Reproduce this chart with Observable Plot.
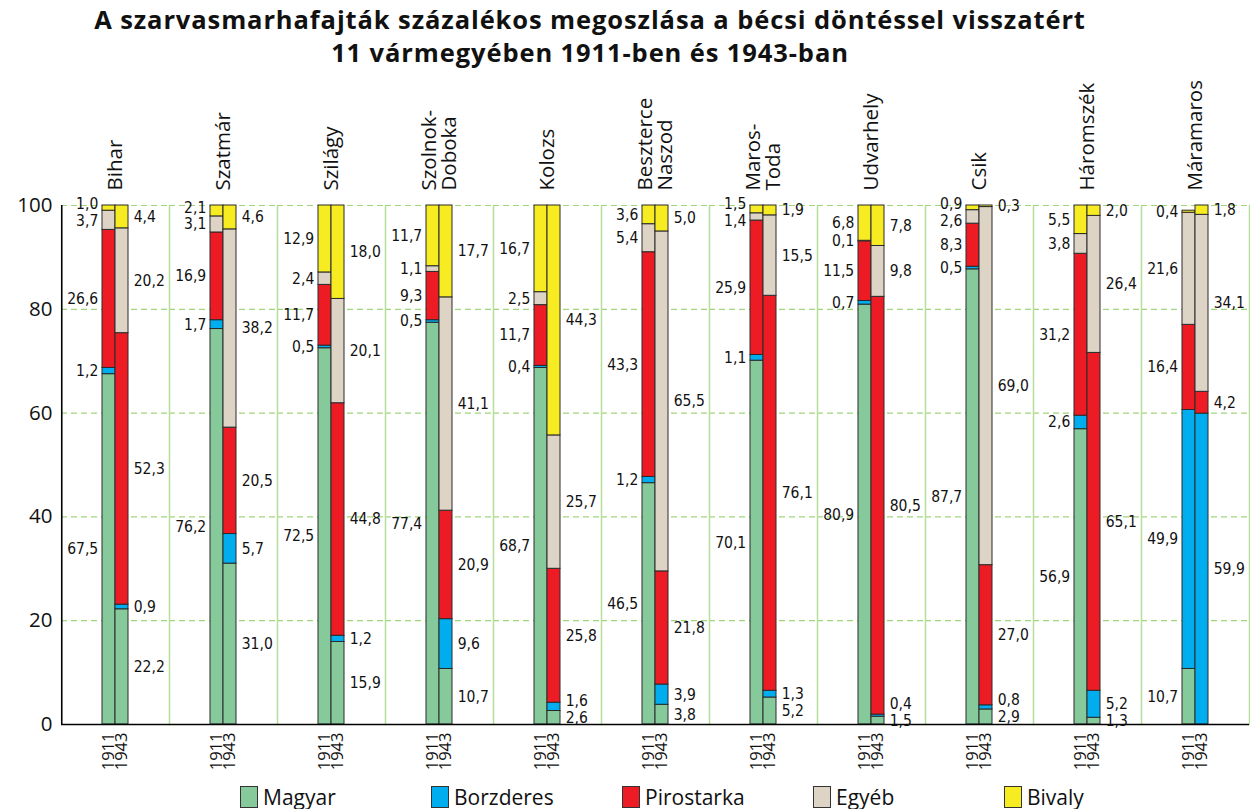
<!DOCTYPE html>
<html>
<head>
<meta charset="utf-8">
<script src="https://cdn.jsdelivr.net/npm/d3@7"></script>
<script src="https://cdn.jsdelivr.net/npm/@observablehq/plot@0.6"></script>
<style>
  html, body { margin: 0; padding: 0; background: #fff; }
  body { width: 1250px; height: 809px; position: relative; overflow: hidden; font-family: "Open Sans", "Noto Sans", sans-serif; }
  .title { position: absolute; left: 0; width: 1180px; text-align: center; font-weight: 700; font-size: 25.5px; line-height: 33px; letter-spacing: 0.9px; color: #111; white-space: nowrap; }
  #t1 { top: 3px; }
  #t2 { top: 36px; }
  #chart { position: absolute; left: 0; top: 75px; }
  #legend { position: absolute; left: 240px; top: 783px; display: flex; }
  .item { width: 191px; display: flex; align-items: center; font-size: 21px; color: #111; }
  .sw { width: 18px; height: 22px; border: 1px solid #333; margin-right: 5px; box-sizing: border-box; }
</style>
</head>
<body>
<div class="title" id="t1">A szarvasmarhafajták százalékos megoszlása a bécsi döntéssel visszatért</div>
<div class="title" id="t2">11 vármegyében 1911-ben és 1943-ban</div>
<div id="chart"></div>
<div id="legend"></div>
<script>
const counties = ["Bihar", "Szatmár", "Szilágy", "Szolnok-\nDoboka", "Kolozs", "Beszterce\nNaszod", "Maros-\nToda", "Udvarhely", "Csik", "Háromszék", "Máramaros"];
const years = [1911, 1943];
const breeds = ["Magyar", "Borzderes", "Pirostarka", "Egyéb", "Bivaly"];
const colors = ["#86c99b", "#00aeef", "#ed1c24", "#ddd4c6", "#f7ec22"];
const yTicks = [0, 20, 40, 60, 80, 100];

// values per county, in breed order
const values1911 = [
  [67.5, 1.2, 26.6, 3.7, 1.0],
  [76.2, 1.7, 16.9, 3.1, 2.1],
  [72.5, 0.5, 11.7, 2.4, 12.9],
  [77.4, 0.5, 9.3, 1.1, 11.7],
  [68.7, 0.4, 11.7, 2.5, 16.7],
  [46.5, 1.2, 43.3, 5.4, 3.6],
  [70.1, 1.1, 25.9, 1.4, 1.5],
  [80.9, 0.7, 11.5, 0.1, 6.8],
  [87.7, 0.5, 8.3, 2.6, 0.9],
  [56.9, 2.6, 31.2, 3.8, 5.5],
  [10.7, 49.9, 16.4, 21.6, 0.4]
];
const values1943 = [
  [22.2, 0.9, 52.3, 20.2, 4.4],
  [31.0, 5.7, 20.5, 38.2, 4.6],
  [15.9, 1.2, 44.8, 20.1, 18.0],
  [10.7, 9.6, 20.9, 41.1, 17.7],
  [2.6, 1.6, 25.8, 25.7, 44.3],
  [3.8, 3.9, 21.8, 65.5, 5.0],
  [5.2, 1.3, 76.1, 15.5, 1.9],
  [1.5, 0.4, 80.5, 9.8, 7.8],
  [2.9, 0.8, 27.0, 69.0, 0.3],
  [1.3, 5.2, 65.1, 26.4, 2.0],
  [0, 59.9, 4.2, 34.1, 1.8]
];

// build table
const rows = [];
const labels = [];
const GAP = 3.2;
counties.forEach((c, ci) => {
  [values1911, values1943].forEach((vals, yi) => {
    let cum = 0;
    const ls = [];
    vals[ci].forEach((v, bi) => {
      rows.push({county: c, year: years[yi], breed: breeds[bi], value: v});
      if (v > 0) ls.push({county: c, year: years[yi], value: v, pos: cum + v / 2});
      cum += v;
    });
    // simple collision avoidance
    for (let i = 0; i < ls.length; i++) {
      if (i === 0) ls[i].pos = Math.max(ls[i].pos, 0.6);
      else ls[i].pos = Math.max(ls[i].pos, ls[i - 1].pos + GAP);
    }
    for (let i = ls.length - 1; i >= 0; i--) {
      if (i === ls.length - 1) ls[i].pos = Math.min(ls[i].pos, 100.2);
      else ls[i].pos = Math.min(ls[i].pos, ls[i + 1].pos - GAP);
    }
    labels.push(...ls);
  });
});
const fmt = v => v.toFixed(1).replace(".", ",");

const width = 1250, marginLeft = 61, marginRight = 1;
const facetW = (width - marginLeft - marginRight) / counties.length;
const step = facetW / 8; // paddingOuter 3, paddingInner 0
const firstCenter = 3.5 * step;

const gridGreen = "#9fd67c";
const labelFont = '"DejaVu Sans Condensed", "DejaVu Sans", sans-serif';

const plot = Plot.plot({
  width, height: 705,
  marginLeft, marginRight, marginTop: 130, marginBottom: 56,
  style: {fontFamily: '"Open Sans", "Noto Sans", sans-serif', color: "#111", background: "transparent", overflow: "visible"},
  fx: {domain: counties, padding: 0, axis: null, label: null},
  x: {domain: years, paddingInner: 0, paddingOuter: 3, axis: null, label: null},
  y: {domain: [0, 100], axis: null, label: null},
  color: {domain: breeds, range: colors},
  marks: [
    Plot.ruleY(yTicks.filter(d => d > 0), {y: d => d, stroke: gridGreen, strokeWidth: 1.2, strokeDasharray: "6,4"}),
    Plot.frame({anchor: "right", stroke: "#b7dd98", strokeWidth: 1.5}),
    Plot.barY(rows, {fx: "county", x: "year", y: "value", fill: "breed", stroke: "#2a2a2a", strokeWidth: 1}),
    Plot.ruleY([0], {stroke: "#000", strokeWidth: 1.6}),
    Plot.ruleX([counties[0]], {fx: d => d, x: () => years[0], y1: 0, y2: 100, dx: -firstCenter, stroke: "#000", strokeWidth: 1.6}),
    Plot.axisY({ticks: yTicks, tickSize: 0, tickPadding: 9, fontSize: 20.5, tickFormat: d => d, label: null}),
    Plot.axisX({tickRotate: -90, tickSize: 0, tickPadding: 8, fontSize: 16.5, tickFormat: d => String(d), label: null}),
    Plot.text(labels.filter(d => d.year === years[0]), {
      fx: "county", x: "year", y: "pos", text: d => fmt(d.value),
      textAnchor: "end", dx: -(step / 2 + 4), fontSize: 15.5, fontFamily: labelFont, fill: "#111"
    }),
    Plot.text(labels.filter(d => d.year === years[1]), {
      fx: "county", x: "year", y: "pos", text: d => fmt(d.value),
      textAnchor: "start", dx: step / 2 + 5, fontSize: 15.5, fontFamily: labelFont, fill: "#111"
    }),
    Plot.text(counties, {
      fx: d => d, text: d => d, frameAnchor: "top", dy: -15, rotate: -90,
      textAnchor: "start", lineAnchor: "middle", lineHeight: 1.0, fontSize: 20.5, fill: "#111"
    })
  ]
});
document.getElementById("chart").appendChild(plot);

const legend = document.getElementById("legend");
breeds.forEach((b, i) => {
  const it = document.createElement("div");
  it.className = "item";
  it.innerHTML = `<span class="sw" style="background:${colors[i]}"></span><span>${b}</span>`;
  legend.appendChild(it);
});
</script>
</body>
</html>
